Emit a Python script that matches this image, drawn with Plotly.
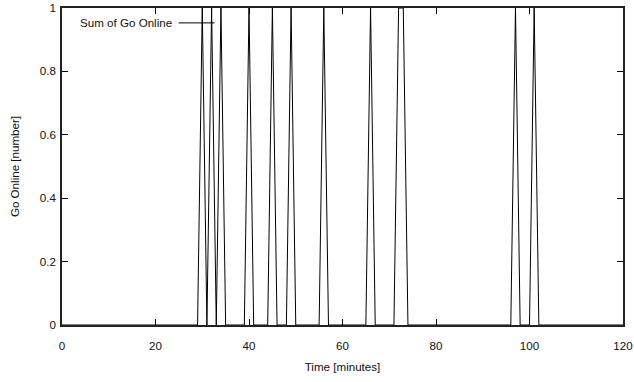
import plotly.graph_objects as go

minutes = list(range(0, 121))
online_minutes = [30, 32, 34, 40, 45, 49, 56, 66, 72, 73, 97, 101]
go_online = [1 if m in online_minutes else 0 for m in minutes]

x_ticks = [0, 20, 40, 60, 80, 100, 120]
y_ticks = [0, 0.2, 0.4, 0.6, 0.8, 1]
y_tick_labels = ["0", "0.2", "0.4", "0.6", "0.8", "1"]

FONT = "Liberation Sans, Arial, Helvetica, sans-serif"
FS = 11.6

fig = go.Figure()
fig.add_trace(go.Scatter(
    x=minutes, y=go_online, mode="lines",
    line=dict(color="black", width=1),
    name="Sum of Go Online", showlegend=False,
))

axis_common = dict(
    showline=True, linecolor="#222", linewidth=1.5, mirror="ticks",
    ticks="inside", ticklen=6, tickcolor="black", tickwidth=1,
    showgrid=False, zeroline=False, automargin=False,
    tickfont=dict(family=FONT, size=FS, color="#111"),
)
fig.update_xaxes(range=[0, 120], tickvals=x_ticks, ticklabelstandoff=9,
                 title=dict(text="Time [minutes]", font=dict(family=FONT, size=FS, color="#111"), standoff=12),
                 **axis_common)
fig.update_yaxes(range=[0, 1], tickvals=y_ticks, ticktext=y_tick_labels, ticklabelstandoff=2,
                 title=dict(text="Go Online [number]", font=dict(family=FONT, size=FS, color="#111"), standoff=18),
                 **axis_common)

# gnuplot-style key: text then line sample
fig.add_annotation(xref="paper", yref="paper", x=0.199, y=0.953, xanchor="right", yanchor="middle",
                   text="Sum of Go Online", showarrow=False,
                   font=dict(family=FONT, size=FS, color="#111"))
fig.add_shape(type="line", xref="paper", yref="paper", x0=0.208, x1=0.272, y0=0.953, y1=0.953,
              line=dict(color="black", width=1))

fig.update_layout(
    width=634, height=382,
    margin=dict(l=62, r=11, t=8, b=57),
    plot_bgcolor="white", paper_bgcolor="white",
    font=dict(family=FONT, size=FS, color="#111"),
)
fig.write_html("out.html")
